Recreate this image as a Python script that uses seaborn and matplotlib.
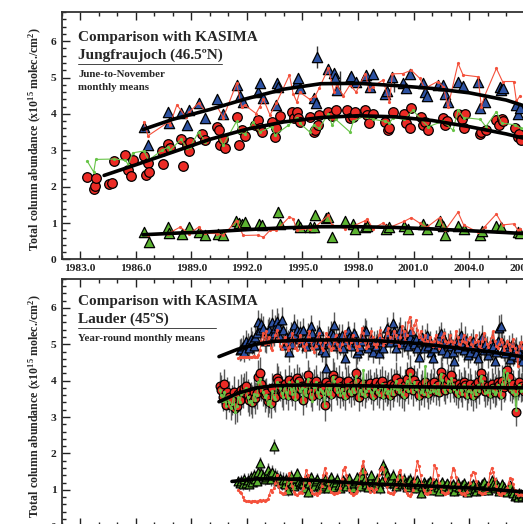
import numpy as np
import pandas as pd
import seaborn as sns
import matplotlib
matplotlib.use("Agg")
import matplotlib.pyplot as plt
from matplotlib.ticker import MultipleLocator, FormatStrFormatter

n = np.nan

# ---------------- Jungfraujoch (June-to-November monthly means) ----------------
# middle species: FTIR (red circles) and KASIMA (green line)
jfj_circ_t = [1983.38, 1983.74, 1983.79, 1983.85, 1984.55, 1984.75, 1984.85, 1985.45, 1985.60, 1985.77,
              1985.84, 1986.43, 1986.56, 1986.67, 1986.74, 1987.42, 1987.50, 1987.75, 1987.86, 1988.45,
              1988.54, 1988.77, 1988.86, 1988.95, 1989.58, 1989.76, 1990.40, 1990.50, 1990.57, 1990.73,
              1990.80, 1991.46, 1991.60, 1991.72, 1991.90, 1992.45, 1992.62, 1992.70, 1992.80, 1993.34,
              1993.52, 1993.60, 1993.78, 1994.42, 1994.55, 1994.70, 1994.78, 1994.85, 1995.40, 1995.60,
              1995.70, 1995.85, 1995.90, 1996.40, 1996.62, 1996.80, 1997.40, 1997.57, 1997.75, 1997.85,
              1998.40, 1998.50, 1998.60, 1998.80, 1999.45, 1999.60, 1999.70, 1999.90, 2000.50, 2000.60,
              2000.80, 2000.88, 2001.40, 2001.50, 2001.60, 2001.80, 2002.60, 2002.70, 2002.80, 2003.40,
              2003.60, 2003.70, 2003.76, 2004.60, 2004.66, 2004.90, 2005.47, 2005.60, 2005.75, 2005.85,
              2006.46, 2006.64, 2006.70, 2006.80]
jfj_circ_v = [2.27, 1.95, 2.03, 2.25, 2.07, 2.10, 2.71, 2.87, 2.45, 2.29,
              2.73, 2.84, 2.31, 2.64, 2.41, 2.98, 2.62, 3.17, 3.05, 3.31,
              2.56, 3.14, 2.98, 3.23, 3.45, 3.28, 3.65, 3.55, 3.14, 3.32,
              3.05, 3.92, 3.14, 3.55, 3.39, 3.70, 3.83, 3.60, 3.50, 3.78,
              3.37, 3.60, 3.95, 4.06, 3.88, 4.06, 3.88, 3.78, 3.92, 3.50,
              3.55, 3.70, 3.97, 4.06, 3.95, 4.10, 4.10, 3.88, 3.92, 4.05,
              4.10, 3.97, 3.75, 4.01, 3.78, 3.55, 3.62, 4.06, 4.01, 3.75,
              3.62, 4.15, 3.92, 3.70, 3.78, 3.55, 3.88, 3.69, 3.80, 4.01,
              3.85, 3.60, 4.01, 3.45, 3.50, 3.55, 3.83, 3.69, 3.85, 3.80,
              3.60, 3.37, 3.45, 3.28]
jfj_gmod_t = [1983.38, 1983.74, 1983.85, 1984.85, 1985.45, 1985.60, 1985.84, 1986.44, 1986.70, 1987.42,
              1987.75, 1987.86, 1988.45, 1988.77, 1988.95, 1989.40, 1989.76, 1990.50, 1990.73, 1991.45,
              1991.60, 1991.90, 1992.35, 1992.70, 1993.34, 1993.52, 1994.25, 1994.70, 1994.85, 1995.40,
              1995.60, 1995.90, 1996.40, 1996.60, 1996.80, 1997.57, 1997.75, 1998.40, 1998.50, 1998.80,
              1999.45, 1999.70, 1999.90, 2000.50, 2000.97, 2001.40, 2001.80, 2002.60, 2003.13, 2003.40,
              2003.70, 2004.60, 2004.90, 2005.47, 2005.75, 2006.46, 2006.80]
jfj_gmod_v = [2.71, 2.40, 2.75, 2.76, 2.73, 2.60, 2.93, 2.98, 2.73, 3.00,
              3.09, 3.00, 3.30, 3.05, 3.10, 3.50, 3.23, 3.36, 3.14, 3.80,
              3.50, 3.45, 3.78, 3.50, 3.65, 3.42, 3.69, 3.90, 3.75, 3.50,
              3.70, 3.60, 4.00, 3.69, 3.85, 3.50, 3.80, 3.95, 3.92, 3.85,
              3.80, 3.75, 3.90, 3.85, 4.10, 3.85, 3.65, 3.80, 3.55, 4.10,
              3.90, 3.85, 3.65, 4.06, 3.75, 3.70, 3.60]

# upper species: FTIR (blue triangles) and KASIMA (red line)
jfj_blue_t = [1986.44, 1986.67, 1987.75, 1987.80, 1988.45, 1988.77, 1988.90, 1989.40, 1989.72, 1990.40,
              1990.73, 1991.45, 1991.63, 1991.80, 1992.62, 1992.70, 1992.90, 1993.60, 1993.62, 1993.70,
              1994.70, 1994.78, 1994.85, 1995.60, 1995.75, 1995.77, 1996.40, 1996.70, 1996.75, 1996.85,
              1997.57, 1997.65, 1997.90, 1998.40, 1998.45, 1998.63, 1998.80, 1999.44, 1999.55, 1999.86,
              2000.43, 2000.60, 2000.80, 2001.50, 2001.60, 2001.70, 2002.30, 2002.60, 2002.70, 2002.86,
              2003.40, 2003.65, 2004.48, 2004.57, 2004.84, 2005.65, 2005.72, 2005.80, 2006.55, 2006.64,
              2006.75]
jfj_blue_v = [3.64, 3.14, 4.06, 3.75, 4.03, 3.69, 4.12, 4.29, 3.90, 4.40,
              4.01, 4.79, 4.49, 4.33, 4.60, 4.86, 4.43, 4.24, 4.84, 4.75,
              4.88, 4.98, 4.70, 4.43, 4.30, 5.57, 5.23, 5.12, 5.00, 4.66,
              4.98, 5.05, 4.88, 4.98, 5.07, 4.75, 5.10, 4.56, 4.62, 5.02,
              4.84, 4.70, 5.11, 4.84, 4.60, 4.50, 4.79, 4.79, 4.56, 4.33,
              4.89, 4.78, 4.89, 4.15, 4.33, 4.75, 4.65, 4.70, 4.24, 4.01,
              4.15]
jfj_rup_t = [1986.44, 1986.67, 1987.75, 1987.85, 1988.23, 1988.70, 1988.90, 1989.40, 1989.72, 1990.40,
             1990.73, 1991.45, 1991.72, 1991.90, 1992.50, 1992.70, 1992.90, 1993.25, 1993.60, 1994.30,
             1994.50, 1994.70, 1994.85, 1995.40, 1995.70, 1995.90, 1996.40, 1996.70, 1996.85, 1997.20,
             1997.57, 1997.90, 1998.40, 1998.60, 1998.80, 1999.35, 1999.70, 1999.86, 2000.43, 2000.88,
             2001.33, 2001.60, 2002.30, 2002.60, 2002.86, 2003.40, 2003.67, 2004.48, 2004.66, 2004.84,
             2005.47, 2005.80, 2006.40, 2006.55, 2006.75]
jfj_rup_v = [3.78, 3.40, 3.77, 3.70, 4.25, 3.92, 4.05, 4.30, 4.10, 4.20,
             3.90, 4.84, 4.20, 4.24, 4.01, 4.20, 4.40, 3.97, 4.30, 5.07,
             4.56, 4.33, 4.60, 4.40, 4.50, 4.70, 5.25, 4.60, 4.80, 4.50,
             4.80, 4.60, 5.11, 4.66, 4.75, 4.93, 4.33, 5.10, 5.11, 5.20,
             4.98, 4.70, 4.89, 4.75, 4.20, 5.39, 5.07, 5.02, 4.20, 4.50,
             5.25, 4.89, 4.89, 4.35, 4.50]

# lower species: FTIR (green triangles) and KASIMA (red line)
jfj_gtri_t = [1986.44, 1986.70, 1987.75, 1987.80, 1988.50, 1988.90, 1989.40, 1989.72, 1990.45, 1990.73,
              1991.40, 1991.60, 1991.72, 1991.90, 1992.68, 1992.80, 1993.70, 1993.80, 1994.78, 1994.85,
              1995.40, 1995.60, 1995.70, 1996.30, 1996.40, 1996.60, 1997.30, 1997.75, 1997.85, 1998.40,
              1998.50, 1999.50, 1999.70, 2000.50, 2000.70, 2001.50, 2001.70, 2002.40, 2002.60, 2002.70,
              2003.40, 2003.70, 2004.57, 2004.70, 2005.47, 2005.70, 2006.64, 2006.75]
jfj_gtri_v = [0.75, 0.48, 0.89, 0.72, 0.71, 0.89, 0.75, 0.68, 0.71, 0.66,
              1.05, 1.00, 0.98, 1.03, 0.98, 0.95, 1.30, 0.98, 0.98, 0.90,
              0.89, 0.89, 1.21, 1.15, 1.17, 0.61, 1.07, 0.98, 0.85, 0.89,
              0.92, 0.85, 0.90, 0.92, 0.85, 0.98, 0.85, 1.07, 0.92, 0.66,
              0.92, 0.85, 0.66, 0.78, 0.92, 0.88, 0.75, 0.72]
jfj_rlow_t = [1986.44, 1986.67, 1987.75, 1988.40, 1988.90, 1989.40, 1989.72, 1990.40, 1990.73, 1991.45,
              1991.80, 1992.60, 1992.90, 1993.25, 1993.60, 1994.30, 1994.50, 1994.70, 1995.40, 1995.70,
              1996.40, 1996.60, 1997.30, 1997.75, 1998.40, 1998.50, 1998.80, 1999.35, 1999.70, 2000.50,
              2000.88, 2001.33, 2001.70, 2002.40, 2002.70, 2003.40, 2003.70, 2004.48, 2004.66, 2004.84,
              2005.47, 2005.80, 2006.40, 2006.64, 2006.75]
jfj_rlow_v = [0.71, 0.66, 0.71, 0.89, 0.71, 0.89, 0.72, 0.71, 0.66, 1.07,
              0.66, 0.67, 0.61, 0.80, 0.80, 1.17, 1.12, 0.80, 0.85, 0.90,
              1.21, 0.95, 0.85, 0.92, 1.07, 1.12, 0.85, 1.00, 0.88, 1.05,
              1.15, 1.00, 0.88, 1.15, 0.80, 1.30, 0.95, 0.75, 0.78, 0.90,
              1.25, 0.95, 0.98, 0.80, 0.85]

# error bars shown at Jungfraujoch (time, value, half-length)
jfj_bar_t = [1987.80, 1995.77, 1997.05, 1999.95, 1993.70]
jfj_bar_v = [3.75, 5.57, 4.90, 4.75, 1.30]
jfj_bar_e = [0.15, 0.30, 0.28, 0.15, 0.15]

# fitted curves
jfj_fit_circ_t = [1984.3, 1986, 1988, 1990, 1992, 1994, 1996, 1998, 2000, 2002, 2004, 2006, 2008]
jfj_fit_circ_v = [2.31, 2.60, 2.95, 3.30, 3.58, 3.78, 3.90, 3.95, 3.92, 3.82, 3.65, 3.45, 3.20]
jfj_fit_t = [1986.4, 1988, 1990, 1992, 1994, 1996, 1998, 2000, 2002, 2004, 2006, 2008]
jfj_fit_blue_v = [3.57, 3.85, 4.12, 4.42, 4.68, 4.83, 4.84, 4.78, 4.70, 4.58, 4.38, 4.05]
jfj_fit_gtri_v = [0.68, 0.72, 0.76, 0.82, 0.87, 0.90, 0.90, 0.88, 0.84, 0.79, 0.74, 0.68]

# ---------------- Lauder (year-round monthly means), rows = years, cols = Jan..Dec ----------------
lau_years = list(range(1990, 2008))
lau_circ = [
    [n, n, n, n, n, n, 3.84, 3.75, 3.56, 3.91, 3.34, 3.70],
    [3.56, 3.34, 3.47, 3.70, 3.24, 3.29, 3.62, 3.47, 3.75, 3.68, 3.80, 3.84],
    [3.60, 3.47, 3.52, 3.42, 3.70, 3.52, 3.66, 4.11, 4.20, 3.90, 3.75, 3.60],
    [3.66, 3.43, 3.52, 3.38, 3.80, 3.60, 3.55, 4.07, 3.98, 3.85, 3.70, 3.62],
    [3.92, 3.75, 3.60, 4.02, 3.85, 3.70, 3.95, 3.58, 4.07, 3.98, 3.80, 3.85],
    [3.47, 3.85, 3.70, 4.16, 3.95, 3.70, 3.58, 3.90, 4.00, 3.75, 3.62, 3.85],
    [3.80, 3.75, 3.34, 3.95, 3.70, 3.88, 3.62, 4.16, 4.05, 3.92, 3.78, 3.98],
    [3.66, 3.85, 3.72, 3.60, 3.95, 4.00, 3.80, 3.70, 3.88, 3.75, 4.20, 3.95],
    [3.56, 3.82, 3.70, 3.92, 3.65, 3.80, 3.88, 3.93, 3.75, 3.60, 3.85, 3.95],
    [3.75, 3.68, 3.90, 3.98, 3.62, 3.85, 3.72, 3.80, 3.61, 3.92, 3.70, 3.88],
    [4.07, 3.85, 3.75, 3.95, 3.70, 3.62, 3.88, 4.05, 3.80, 4.25, 3.95, 3.75],
    [4.02, 3.85, 3.92, 3.61, 3.75, 3.88, 3.70, 3.95, 3.82, 3.65, 3.78, 3.90],
    [3.80, 3.95, 3.72, 3.88, 3.70, 4.25, 4.10, 3.85, 3.75, 3.92, 4.05, 3.80],
    [4.15, 3.95, 3.84, 3.75, 3.66, 3.90, 3.82, 3.70, 3.95, 3.88, 3.62, 3.80],
    [3.92, 3.75, 3.60, 3.85, 3.70, 3.95, 3.80, 4.20, 4.05, 3.88, 3.72, 3.78],
    [3.85, 3.65, 3.92, 3.80, 3.70, 3.75, 3.95, 3.88, 3.62, 4.00, 3.82, 3.90],
    [4.30, 4.10, 3.85, 3.78, 3.90, 3.70, 3.15, 3.88, 3.95, 3.80, 3.85, 3.72],
    [3.85, 3.70, 3.90, 3.80, 3.95, 3.75, 3.82, n, n, n, n, n],
]
lau_gmod = [
    [n, n, n, n, n, n, 3.75, 3.60, 3.45, 3.70, 3.30, 3.55],
    [3.40, 3.25, 3.35, 3.60, 3.15, 3.30, 3.55, 3.40, 3.62, 3.70, 3.75, 3.80],
    [3.55, 3.40, 3.45, 3.35, 3.62, 3.48, 3.60, 3.95, 4.05, 3.85, 3.70, 3.55],
    [3.60, 3.35, 3.45, 3.30, 3.72, 3.55, 3.50, 3.95, 3.90, 3.80, 3.65, 3.55],
    [3.85, 3.70, 3.52, 3.95, 3.78, 3.62, 3.90, 3.50, 4.00, 3.92, 3.72, 3.80],
    [3.40, 3.78, 3.60, 4.05, 3.88, 3.56, 3.45, 3.82, 3.95, 3.68, 3.55, 3.78],
    [3.72, 3.65, 3.30, 3.88, 3.62, 3.80, 3.55, 4.10, 3.98, 3.85, 3.70, 3.90],
    [3.60, 3.78, 3.65, 3.52, 3.88, 3.92, 3.72, 3.62, 3.80, 3.68, 4.12, 3.88],
    [3.50, 3.75, 3.62, 4.30, 3.58, 3.72, 3.80, 3.85, 3.68, 3.52, 3.78, 3.88],
    [3.68, 3.60, 3.82, 3.90, 3.55, 3.78, 3.65, 3.72, 3.52, 3.85, 3.62, 3.80],
    [4.00, 3.78, 3.68, 3.88, 3.62, 3.55, 3.80, 3.98, 3.72, 4.18, 3.88, 3.68],
    [3.95, 3.78, 3.85, 3.52, 3.68, 3.80, 3.62, 4.39, 3.75, 3.58, 3.70, 3.82],
    [3.72, 3.88, 3.65, 3.80, 3.62, 4.18, 4.02, 3.78, 3.68, 3.85, 3.98, 3.72],
    [4.08, 3.88, 3.76, 3.68, 3.58, 3.82, 3.75, 3.62, 3.88, 3.80, 3.55, 3.72],
    [3.85, 3.68, 3.52, 3.78, 3.62, 3.88, 3.72, 4.12, 3.98, 3.80, 3.65, 3.70],
    [3.78, 3.58, 3.85, 3.72, 3.62, 3.68, 3.88, 3.80, 3.55, 3.92, 4.30, 3.82],
    [4.22, 4.02, 3.78, 3.70, 3.82, 3.62, 3.20, 3.80, 3.88, 3.72, 3.78, 3.65],
    [3.78, 3.62, 3.82, 3.72, 3.88, 3.68, 3.75, n, n, n, n, n],
]
lau_blue = [
    [n] * 12,
    [n, n, n, n, n, n, n, 4.85, 4.88, 4.95, 4.80, 5.10],
    [5.00, 4.90, 5.15, 5.05, 4.95, 5.20, 5.30, 5.62, 5.40, 5.55, 5.45, 5.10],
    [5.12, 5.35, 5.40, 5.25, 5.62, 5.30, 5.45, 5.65, 5.50, 5.20, 5.67, 5.40],
    [4.98, 5.20, 5.10, 4.80, 5.30, 5.00, 5.53, 5.25, 5.40, 5.15, 5.35, 5.05],
    [5.40, 5.10, 4.95, 5.26, 5.15, 5.49, 5.30, 5.05, 4.98, 5.20, 5.35, 5.10],
    [4.85, 5.00, 4.78, 4.35, 5.15, 5.05, 5.30, 5.26, 5.53, 5.10, 4.95, 5.20],
    [5.00, 5.25, 4.90, 4.62, 5.10, 5.35, 5.20, 4.95, 5.15, 5.30, 5.05, 4.76],
    [4.85, 4.95, 5.10, 5.20, 5.40, 5.35, 4.90, 5.00, 5.15, 4.80, 5.05, 4.95],
    [5.10, 4.75, 5.20, 5.05, 4.90, 5.15, 5.44, 5.30, 5.05, 5.20, 5.58, 5.35],
    [4.89, 5.10, 5.25, 5.40, 5.00, 5.15, 5.30, 5.05, 4.95, 5.20, 5.35, 5.10],
    [5.00, 5.15, 4.89, 4.66, 5.05, 5.20, 4.90, 5.10, 5.25, 4.95, 5.05, 4.80],
    [4.62, 4.90, 5.10, 5.00, 5.20, 5.30, 4.85, 5.15, 5.05, 4.75, 5.00, 5.10],
    [4.95, 4.80, 4.53, 5.05, 4.90, 5.10, 5.26, 5.00, 4.85, 5.15, 4.95, 4.70],
    [4.80, 5.00, 5.10, 4.90, 4.75, 4.62, 5.05, 4.95, 5.20, 4.85, 5.00, 4.90],
    [4.70, 4.85, 5.00, 4.95, 4.53, 4.80, 5.10, 5.44, 5.49, 5.05, 4.90, 4.75],
    [4.85, 4.95, 4.60, 5.00, 4.70, 4.85, 4.90, 4.65, 4.80, 4.95, 4.55, 4.75],
    [4.70, 4.85, 4.60, 4.90, 4.75, 4.65, 4.80, n, n, n, n, n],
]
lau_rup = [
    [n] * 12,
    [n, n, n, n, n, n, 4.62, 4.65, 4.66, 4.64, 4.66, 4.65],
    [4.66, 4.64, 4.65, 4.66, 4.68, 4.65, 4.66, 4.70, 4.85, 5.10, 5.30, 5.00],
    [5.35, 5.03, 5.20, 4.90, 4.85, 5.10, 5.25, 5.40, 5.15, 4.95, 4.88, 5.05],
    [5.20, 5.00, 4.85, 4.92, 5.10, 5.30, 5.15, 4.90, 4.85, 5.05, 5.25, 5.10],
    [4.95, 4.85, 5.00, 5.20, 5.35, 5.10, 4.90, 4.80, 4.95, 5.15, 5.30, 5.05],
    [4.90, 4.85, 5.05, 5.30, 5.20, 4.95, 4.85, 4.90, 5.10, 5.25, 5.00, 4.88],
    [4.85, 5.00, 5.15, 5.35, 5.10, 4.95, 4.90, 5.05, 5.25, 5.15, 4.95, 4.85],
    [4.95, 5.10, 5.44, 5.30, 5.05, 4.90, 4.95, 5.15, 5.35, 5.20, 5.00, 4.92],
    [5.00, 5.25, 5.40, 5.15, 4.98, 5.05, 5.30, 5.45, 5.20, 5.05, 5.10, 5.35],
    [5.25, 5.05, 4.95, 5.20, 5.50, 5.35, 5.10, 5.25, 5.60, 5.76, 5.45, 5.30],
    [5.53, 5.67, 5.40, 5.20, 5.35, 5.15, 5.05, 5.25, 5.10, 5.00, 5.20, 5.05],
    [4.95, 5.10, 5.25, 5.05, 4.90, 5.00, 5.20, 5.30, 5.10, 4.95, 5.05, 5.25],
    [5.10, 4.95, 5.05, 5.35, 5.20, 5.00, 4.90, 5.10, 5.25, 5.05, 4.95, 5.15],
    [5.20, 5.00, 4.90, 5.05, 5.25, 5.10, 4.95, 4.88, 5.10, 5.30, 5.15, 5.00],
    [4.92, 5.05, 5.20, 5.35, 5.10, 4.95, 4.90, 5.00, 5.15, 5.05, 4.85, 4.95],
    [5.10, 5.00, 4.85, 4.95, 5.15, 4.90, 4.80, 4.39, 4.95, 5.05, 4.90, 4.85],
    [4.95, 4.85, 4.75, 4.90, 5.00, 4.85, 4.80, n, n, n, n, n],
]
lau_gtri = [
    [n] * 12,
    [n, n, n, n, n, n, 1.23, 1.18, 1.25, 1.15, 1.30, 1.20],
    [1.28, 1.15, 1.35, 1.22, 1.40, 1.30, 1.25, 1.50, 1.73, 1.45, 1.38, 1.30],
    [1.35, 1.55, 1.42, 1.30, 1.48, 2.19, 1.40, 1.35, 1.25, 1.32, 1.20, 1.28],
    [1.15, 1.30, 1.00, 1.25, 1.38, 1.20, 1.10, 1.32, 1.45, 1.25, 1.15, 1.18],
    [1.18, 1.05, 1.28, 0.95, 1.20, 1.35, 1.15, 1.10, 1.25, 1.30, 1.12, 1.05],
    [1.20, 1.10, 1.30, 1.15, 1.05, 1.25, 1.35, 1.18, 1.08, 1.22, 1.30, 1.12],
    [1.05, 1.15, 1.28, 1.20, 1.10, 1.23, 1.32, 1.15, 1.05, 1.18, 1.25, 1.35],
    [1.20, 1.10, 1.37, 1.55, 1.30, 1.15, 1.08, 1.25, 1.40, 1.20, 1.12, 1.22],
    [1.30, 1.15, 1.05, 1.25, 1.69, 1.55, 1.40, 1.25, 1.18, 1.30, 1.42, 1.20],
    [1.10, 1.25, 1.35, 1.20, 1.15, 1.30, 1.18, 1.08, 1.25, 1.30, 1.15, 1.22],
    [1.20, 1.05, 1.28, 1.15, 0.91, 1.10, 1.22, 1.15, 1.05, 1.18, 1.25, 1.10],
    [1.00, 1.12, 1.20, 1.08, 0.98, 1.15, 1.22, 1.05, 1.10, 1.18, 1.02, 1.12],
    [1.05, 1.15, 0.98, 1.10, 1.20, 1.08, 1.00, 1.12, 1.18, 1.05, 0.95, 1.10],
    [1.02, 1.10, 1.15, 1.05, 0.98, 1.12, 1.08, 1.00, 1.15, 1.22, 1.05, 1.10],
    [1.00, 1.08, 1.27, 1.15, 1.05, 1.20, 1.10, 0.98, 1.05, 1.15, 1.08, 1.00],
    [0.95, 1.05, 1.12, 0.98, 0.90, 0.82, 0.85, 0.80, 0.92, 0.88, 0.82, 0.90],
    [0.85, 0.92, 0.80, 0.88, 0.95, 0.85, 0.82, n, n, n, n, n],
]
lau_rlow = [
    [n] * 12,
    [n, n, n, n, n, n, 1.00, 0.95, 0.91, 0.80, 0.72, 0.68],
    [0.68, 0.70, 0.66, 0.68, 0.70, 0.69, 0.67, 0.70, 0.72, 0.70, 0.71, 0.70],
    [0.72, 0.75, 0.85, 1.00, 0.95, 1.05, 1.18, 1.41, 1.10, 0.95, 0.90, 0.88],
    [0.92, 1.05, 1.30, 1.45, 1.25, 1.10, 0.95, 0.88, 0.86, 0.90, 0.95, 0.92],
    [1.05, 1.35, 1.55, 1.40, 1.20, 1.00, 0.92, 0.88, 0.90, 0.86, 0.92, 0.98],
    [1.10, 1.40, 1.60, 1.45, 1.25, 1.05, 0.95, 0.90, 0.88, 0.92, 0.90, 0.95],
    [1.05, 1.30, 1.55, 1.64, 1.40, 1.15, 1.00, 0.90, 0.86, 0.88, 0.92, 0.98],
    [1.15, 1.45, 1.65, 1.78, 1.50, 1.20, 1.05, 0.95, 1.05, 1.00, 0.95, 1.02],
    [1.20, 1.40, 1.55, 1.64, 1.58, 1.30, 1.10, 0.95, 0.90, 0.92, 0.88, 0.95],
    [1.10, 1.30, 1.50, 1.55, 1.35, 1.15, 1.00, 0.90, 0.85, 0.82, 0.88, 1.00],
    [1.25, 1.55, 1.78, 1.65, 1.40, 1.15, 1.00, 0.92, 0.88, 0.90, 0.95, 1.05],
    [1.30, 1.69, 1.60, 1.40, 1.20, 1.05, 0.95, 0.90, 0.88, 0.92, 0.95, 1.10],
    [1.35, 1.60, 1.55, 1.35, 1.15, 1.00, 0.92, 0.88, 0.90, 0.87, 0.95, 1.05],
    [1.20, 1.40, 1.50, 1.45, 1.25, 1.05, 0.95, 0.90, 0.88, 0.90, 0.92, 1.00],
    [1.15, 1.45, 1.60, 1.50, 1.30, 1.10, 0.95, 0.88, 0.86, 0.90, 0.92, 0.98],
    [1.05, 1.20, 1.32, 1.30, 1.15, 1.00, 0.90, 0.85, 0.85, 0.88, 0.86, 0.90],
    [1.00, 1.15, 1.30, 1.25, 1.10, 0.95, 0.88, n, n, n, n, n],
]
# error-bar half-lengths per year
lau_circ_err = [0.40, 0.42, 0.45, 0.42, 0.40, 0.42, 0.45, 0.42, 0.40,
                0.43, 0.45, 0.42, 0.40, 0.42, 0.44, 0.42, 0.40, 0.40]
lau_blue_err = [0.30, 0.30, 0.32, 0.35, 0.30, 0.32, 0.35, 0.30, 0.32,
                0.30, 0.35, 0.32, 0.30, 0.35, 0.32, 0.35, 0.30, 0.30]
lau_gtri_err = [0.15, 0.15, 0.18, 0.20, 0.16, 0.15, 0.15, 0.14, 0.15,
                0.16, 0.15, 0.14, 0.13, 0.14, 0.14, 0.14, 0.13, 0.13]

lau_fit_t = [1990.5, 1991.5, 1992.5, 1993.5, 1995, 1997, 1999, 2001, 2003, 2005, 2007, 2008.5]
lau_fit_blue_v = [4.66, 4.86, 5.00, 5.08, 5.11, 5.12, 5.10, 5.03, 4.92, 4.80, 4.65, 4.52]
lau_fit_circ_v = [3.42, 3.65, 3.80, 3.86, 3.88, 3.87, 3.85, 3.83, 3.82, 3.81, 3.80, 3.78]
lau_fit_gtri_t = [1991.2, 1992.5, 1994, 1996, 1998, 2000, 2002, 2004, 2006, 2008]
lau_fit_gtri_v = [1.23, 1.30, 1.30, 1.25, 1.18, 1.14, 1.10, 1.05, 0.98, 0.90]

# ---------------- style ----------------
sns.set_style("ticks")
plt.rcParams["font.family"] = ["Liberation Serif", "DejaVu Serif"]
plt.rcParams["font.weight"] = "bold"
plt.rcParams["mathtext.fontset"] = "custom"
plt.rcParams["mathtext.rm"] = "Liberation Serif:bold"
plt.rcParams["mathtext.bf"] = "Liberation Serif:bold"
plt.rcParams["mathtext.default"] = "rm"

RED = "#ec2b25"
BLUE = "#2d52a2"
GREEN = "#5cb331"
RED_LINE = "#f4513c"
GREEN_LINE = "#67c447"
BAR = "#5a5a5a"

fig = plt.figure(figsize=(5.23, 5.24), dpi=100)
ax_top = fig.add_axes([0.1176, 0.5048, 0.9566, 0.4723])
ax_bot = fig.add_axes([0.1176, -0.0042, 0.9566, 0.4723])


def obs(ax, t, v, marker, color, s):
    sns.scatterplot(x=np.asarray(t), y=np.asarray(v), ax=ax, marker=marker, s=s, color=color,
                    edgecolor="black", linewidth=0.9, zorder=3, legend=False)


def model(ax, t, v, color):
    sns.lineplot(x=np.asarray(t), y=np.asarray(v), ax=ax, color=color, lw=0.8, marker="o",
                 markersize=2.3, markeredgewidth=0, estimator=None, sort=False, zorder=4, legend=False)


def fit(ax, t, v):
    sns.lineplot(x=np.asarray(t), y=np.asarray(v), ax=ax, color="black", lw=2.6,
                 estimator=None, sort=False, zorder=5, legend=False)


# ---- top panel: Jungfraujoch ----
ax_top.errorbar(jfj_bar_t, jfj_bar_v, yerr=jfj_bar_e, fmt="none", ecolor="#333333", elinewidth=1, zorder=2)
obs(ax_top, jfj_circ_t, jfj_circ_v, "o", RED, 48)
obs(ax_top, jfj_blue_t, jfj_blue_v, "^", BLUE, 55)
obs(ax_top, jfj_gtri_t, jfj_gtri_v, "^", GREEN, 55)
model(ax_top, jfj_gmod_t, jfj_gmod_v, GREEN_LINE)
model(ax_top, jfj_rup_t, jfj_rup_v, RED_LINE)
model(ax_top, jfj_rlow_t, jfj_rlow_v, RED_LINE)
fit(ax_top, jfj_fit_circ_t, jfj_fit_circ_v)
fit(ax_top, jfj_fit_t, jfj_fit_blue_v)
fit(ax_top, jfj_fit_t, jfj_fit_gtri_v)

# ---- bottom panel: Lauder ----
lau_t = np.array([y + (m - 0.5) / 12 for y in lau_years for m in range(1, 13)])
lau = pd.DataFrame({
    "t": lau_t,
    "circ": np.ravel(lau_circ), "gmod": np.ravel(lau_gmod),
    "blue": np.ravel(lau_blue), "rup": np.ravel(lau_rup),
    "gtri": np.ravel(lau_gtri), "rlow": np.ravel(lau_rlow),
    "circ_err": np.repeat(lau_circ_err, 12), "blue_err": np.repeat(lau_blue_err, 12),
    "gtri_err": np.repeat(lau_gtri_err, 12),
})
for col, ecol in [("circ", "circ_err"), ("blue", "blue_err"), ("gtri", "gtri_err")]:
    d = lau.dropna(subset=[col])
    ax_bot.errorbar(d["t"], d[col], yerr=d[ecol], fmt="none", ecolor=BAR, elinewidth=1.0, zorder=1)
for col, mk, colr in [("circ", "o", RED), ("blue", "^", BLUE), ("gtri", "^", GREEN)]:
    d = lau.dropna(subset=[col])
    obs(ax_bot, d["t"], d[col], mk, colr, 40)
for col, colr in [("gmod", GREEN_LINE), ("rup", RED_LINE), ("rlow", RED_LINE)]:
    d = lau.dropna(subset=[col])
    model(ax_bot, d["t"], d[col], colr)
fit(ax_bot, lau_fit_t, lau_fit_blue_v)
fit(ax_bot, lau_fit_t, lau_fit_circ_v)
fit(ax_bot, lau_fit_gtri_t, lau_fit_gtri_v)

# ---- axes cosmetics ----
for ax in (ax_top, ax_bot):
    ax.set_xlim(1982.0, 2009.0)
    ax.set_ylim(0, 6.8)
    ax.xaxis.set_major_locator(MultipleLocator(3))
    ax.xaxis.set_minor_locator(MultipleLocator(1))
    ax.yaxis.set_major_locator(MultipleLocator(1))
    ax.yaxis.set_minor_locator(MultipleLocator(0.2))
    ax.xaxis.set_major_formatter(FormatStrFormatter("%.1f"))
    ax.tick_params(which="both", direction="in", top=True, bottom=True, left=True, right=True,
                   labelsize=8.2, colors="#222222", width=1.0)
    ax.tick_params(which="major", length=6)
    ax.tick_params(which="minor", length=3)
    for sp in ax.spines.values():
        sp.set_linewidth(1.3)
        sp.set_color("#333333")
    ax.set_xlabel("")
    ax.set_ylabel("")
    for lab in ax.get_xticklabels() + ax.get_yticklabels():
        lab.set_fontweight("bold")
ax_bot.tick_params(labelbottom=False)
ax_top.tick_params(axis="x", pad=3)

ylab = "Total column abundance (x10$^{15}$ molec./cm$^{2}$)"
fig.text(35 / 523, 1 - 139 / 524, ylab, rotation=90, ha="center", va="center", fontsize=8.6, fontweight="bold")
fig.text(35 / 523, 1 - 406 / 524, ylab, rotation=90, ha="center", va="center", fontsize=8.6, fontweight="bold")

# panel annotations
ax_top.text(1982.9, 5.99, "Comparison with KASIMA", fontsize=11, fontweight="bold", va="baseline")
ax_top.text(1982.9, 5.50, "Jungfraujoch (46.5ºN)", fontsize=11, fontweight="bold", va="baseline")
ax_top.plot([1982.9, 1990.66], [5.36, 5.36], color="#444444", lw=0.7)
ax_top.text(1982.9, 5.01, "June-to-November", fontsize=7.8, fontweight="bold", va="baseline")
ax_top.text(1982.9, 4.65, "monthly means", fontsize=7.8, fontweight="bold", va="baseline")

ax_bot.text(1982.9, 6.08, "Comparison with KASIMA", fontsize=11, fontweight="bold", va="baseline")
ax_bot.text(1982.9, 5.60, "Lauder (45ºS)", fontsize=11, fontweight="bold", va="baseline")
ax_bot.plot([1982.9, 1990.33], [5.44, 5.44], color="#444444", lw=0.7)
ax_bot.text(1982.9, 5.10, "Year-round monthly means", fontsize=7.8, fontweight="bold", va="baseline")

fig.savefig("out.png", dpi=100)
